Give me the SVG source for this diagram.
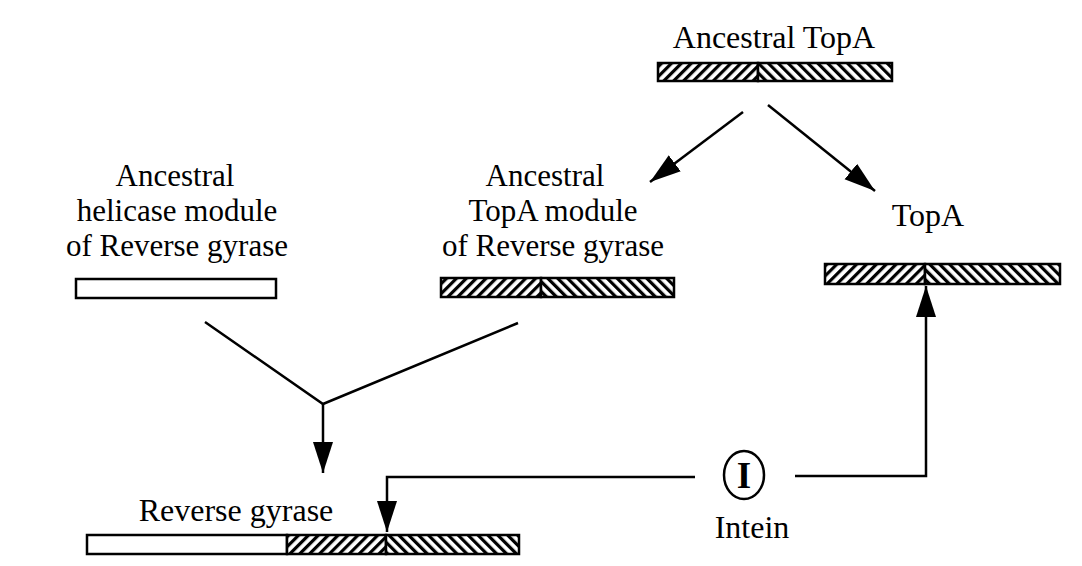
<svg xmlns="http://www.w3.org/2000/svg" width="1082" height="566" viewBox="0 0 1082 566">
<defs>
<style>
text{font-family:"Liberation Serif","Times New Roman",serif;font-size:32px;fill:#000;text-anchor:middle}
.lbl{font-size:31px}
.bar{stroke:#000;stroke-width:2.5}
.conn{fill:none;stroke:#000;stroke-width:2.5}
</style>
<pattern id="hl" width="7" height="7" patternUnits="userSpaceOnUse" patternTransform="rotate(45)"><rect width="7" height="7" fill="#fff"/><rect width="3.2" height="7" fill="#000"/></pattern>
<pattern id="hr" width="7" height="7" patternUnits="userSpaceOnUse" patternTransform="rotate(-45)"><rect width="7" height="7" fill="#fff"/><rect width="3.2" height="7" fill="#000"/></pattern>
<marker id="ah" markerUnits="userSpaceOnUse" markerWidth="34" markerHeight="22" refX="31" refY="10" orient="auto"><path d="M0,0 L31,10 L0,20 z" fill="#000"/></marker>
</defs>
<rect width="1082" height="566" fill="#fff"/>
<g id="ancestral-topa">
<text x="774" y="48">Ancestral TopA</text>
<rect class="bar" x="658" y="63" width="100" height="18" fill="url(#hl)"/>
<rect class="bar" x="758" y="63" width="134" height="18" fill="url(#hr)"/>
</g>
<g id="helicase-module">
<text class="lbl" x="175" y="186">Ancestral</text>
<text class="lbl" x="177" y="221">helicase module</text>
<text class="lbl" x="177" y="256">of Reverse gyrase</text>
<rect class="bar" x="76" y="279" width="200" height="19" fill="#fff"/>
</g>
<g id="topa-module">
<text class="lbl" x="545" y="186">Ancestral</text>
<text class="lbl" x="553" y="221">TopA module</text>
<text class="lbl" x="553" y="256">of Reverse gyrase</text>
<rect class="bar" x="441" y="278" width="100" height="19" fill="url(#hl)"/>
<rect class="bar" x="541" y="278" width="133" height="19" fill="url(#hr)"/>
</g>
<g id="topa">
<text x="928" y="226">TopA</text>
<rect class="bar" x="825" y="264" width="100" height="20" fill="url(#hl)"/>
<rect class="bar" x="925" y="264" width="135" height="20" fill="url(#hr)"/>
</g>
<g id="reverse-gyrase">
<text x="236" y="521">Reverse gyrase</text>
<rect class="bar" x="87" y="535" width="200" height="19" fill="#fff"/>
<rect class="bar" x="287" y="535" width="99" height="19" fill="url(#hl)"/>
<rect class="bar" x="386" y="535" width="133" height="19" fill="url(#hr)"/>
</g>
<g id="intein">
<ellipse cx="744" cy="475" rx="20" ry="24" fill="#fff" stroke="#000" stroke-width="2.5"/>
<text x="744" y="488" style="font-weight:bold;font-size:37px">I</text>
<text x="752" y="538">Intein</text>
</g>
<g id="connectors">
<path class="conn" d="M743,112 L650,182" marker-end="url(#ah)"/>
<path class="conn" d="M768,105 L875,191" marker-end="url(#ah)"/>
<path class="conn" d="M205,322 L323,404 L518,323"/>
<path class="conn" d="M323,404 L323,473" marker-end="url(#ah)"/>
<path class="conn" d="M695,477 L387,477 L387,532" marker-end="url(#ah)"/>
<path class="conn" d="M795,476 L926,476 L926,286" marker-end="url(#ah)"/>
</g>
</svg>
